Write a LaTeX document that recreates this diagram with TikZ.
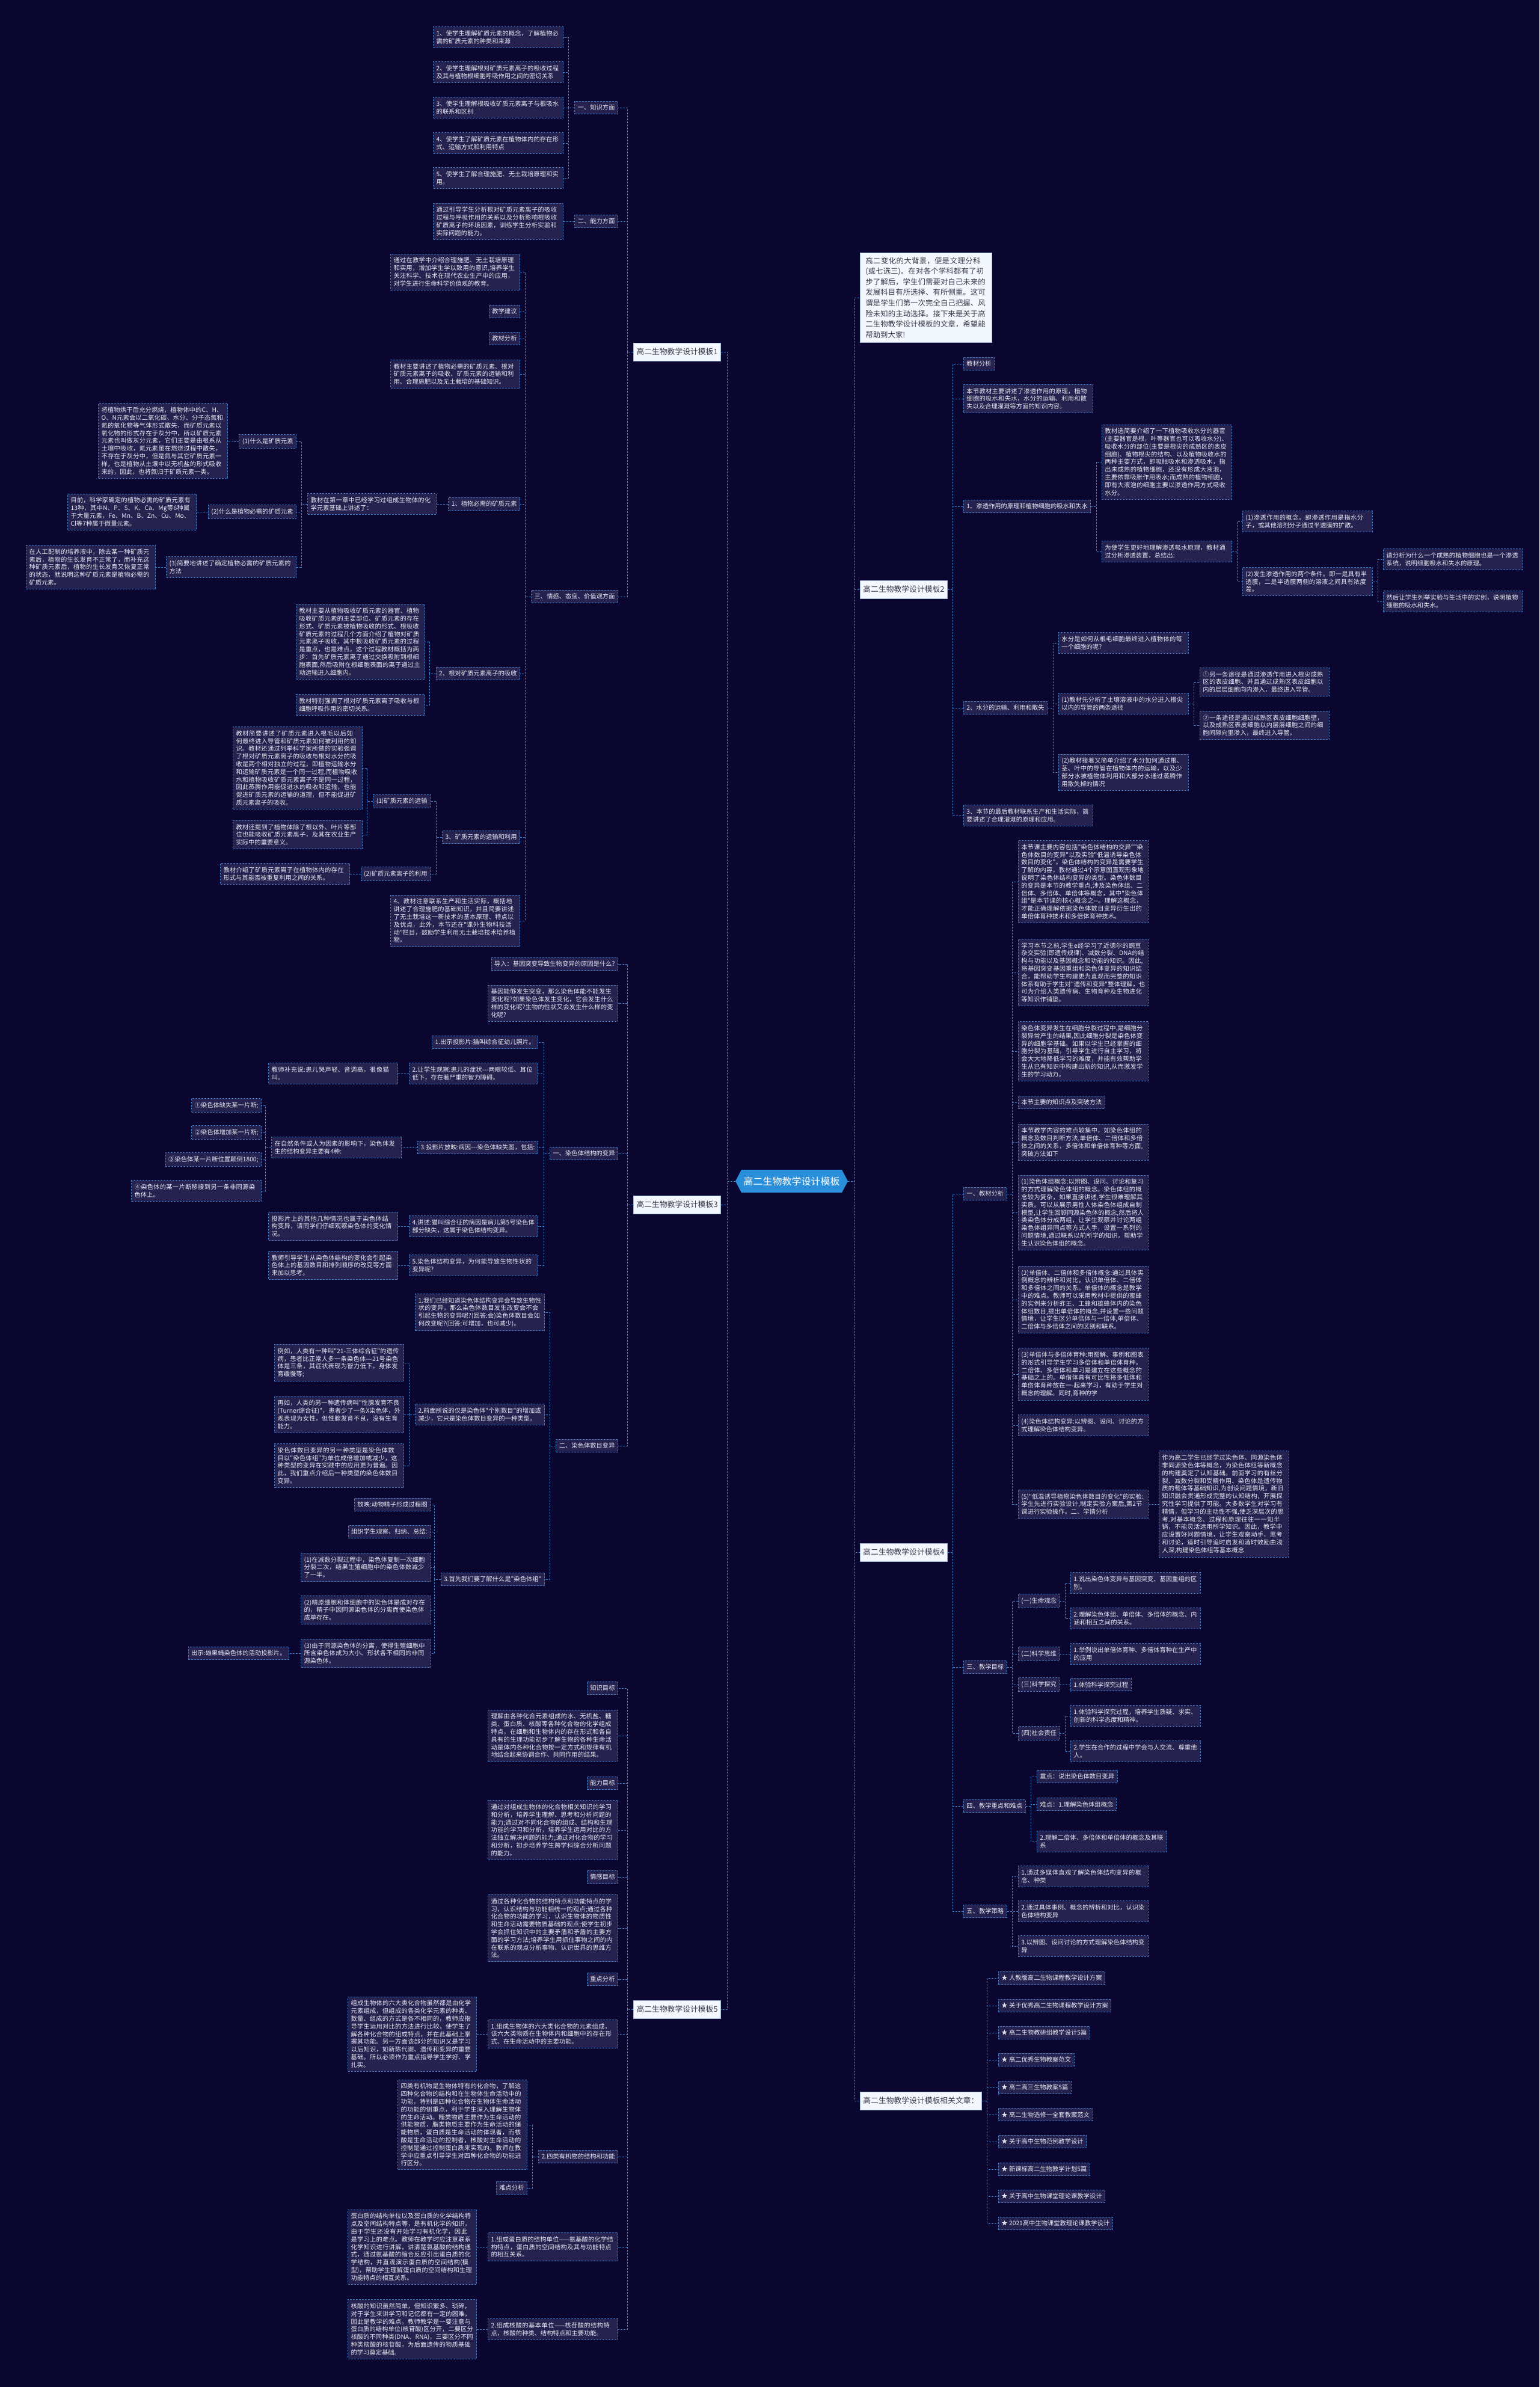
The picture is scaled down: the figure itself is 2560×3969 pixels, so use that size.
\documentclass[tikz,border=0pt]{standalone}
\usepackage{fontspec}
\newfontfamily\cjk{Noto Sans CJK SC}
\XeTeXlinebreaklocale "zh"
\XeTeXlinebreakskip=0pt plus 1pt
\usetikzlibrary{calc}
\definecolor{bgc}{HTML}{0A0630}
\definecolor{boxc}{HTML}{26224F}
\definecolor{bd}{HTML}{3C7CC8}
\definecolor{cc}{HTML}{3A86D2}
\definecolor{txt}{HTML}{E8E8F2}
\definecolor{mainfill}{HTML}{F3F8FE}
\definecolor{mainbd}{HTML}{9FB6D6}
\definecolor{maintxt}{HTML}{3A3A4A}
\definecolor{rootc}{HTML}{2A8FDA}
\newcommand\lcon[2]{\draw[conn] (#1.west) -- ++(-10,0) |- (#2.east);}
\newcommand\rcon[2]{\draw[conn] (#1.east) -- ++(9,0) |- (#2.west);}
\begin{document}
\begin{tikzpicture}[x=1pt,y=-1pt,
  lf/.style={draw=bd, dash pattern=on 3pt off 2pt, line width=0.9pt, fill=boxc, text=txt,
    font=\cjk\fontsize{10.3}{12.8}\selectfont, inner xsep=5pt, inner ysep=6pt, align=left},
  tw/.style={text width=#1},
  mn/.style={draw=mainbd, line width=0.8pt, fill=mainfill, text=maintxt,
    font=\cjk\fontsize{12.8}{16}\selectfont, inner xsep=5pt, minimum height=30pt},
  intro/.style={draw=mainbd, line width=0.8pt, fill=mainfill, text=maintxt,
    font=\cjk\fontsize{12.4}{17.6}\selectfont, inner xsep=9pt, inner ysep=7pt, align=left},
  conn/.style={draw=cc, dash pattern=on 3pt off 2pt, line width=0.9pt}]
\fill[bgc] (0,0) rectangle (2560,3969);
\useasboundingbox (0,0) rectangle (2560,3969);

% ---------- root ----------
\fill[rootc] (1223,1964) -- (1233,1945) -- (1400,1945) -- (1410,1964) -- (1400,1983) -- (1233,1983) -- cycle;
\node[minimum width=187pt, minimum height=38pt, inner sep=0pt, text=white,
  font=\cjk\fontsize{16}{18}\selectfont] (root) at (1316.5,1964) {高二生物教学设计模板};

% ================= LEFT: 模板1 =================
\node[mn,anchor=east] (m1) at (1199,585) {高二生物教学设计模板1};
\node[lf,anchor=east] (k) at (1028,179) {一、知识方面};
\node[lf,anchor=east] (n) at (1028,368) {二、能力方面};
\node[lf,anchor=east] (q) at (1028,992) {三、情感、态度、价值观方面};
\node[lf,anchor=east,tw=206pt] (k1) at (937,62) {1、使学生理解矿质元素的概念，了解植物必需的矿质元素的种类和来源};
\node[lf,anchor=east,tw=206pt] (k2) at (937,120) {2、使学生理解根对矿质元素离子的吸收过程及其与植物根细胞呼吸作用之间的密切关系};
\node[lf,anchor=east,tw=206pt] (k3) at (937,179) {3、使学生理解根吸收矿质元素离子与根吸水的联系和区别};
\node[lf,anchor=east,tw=206pt] (k4) at (937,238) {4、使学生了解矿质元素在植物体内的存在形式、运输方式和利用特点};
\node[lf,anchor=east,tw=206pt] (k5) at (937,296) {5、使学生了解合理施肥、无土栽培原理和实用。};
\node[lf,anchor=east,tw=206pt] (n1) at (937,368) {通过引导学生分析根对矿质元素离子的吸收过程与呼吸作用的关系以及分析影响根吸收矿质离子的环境因素，训练学生分析实验和实际问题的能力。};
\node[lf,anchor=east,tw=205pt] (qa) at (865,452) {通过在教学中介绍合理施肥、无土栽培原理和实用，增加学生学以致用的意识,培养学生关注科学、技术在现代农业生产中的应用，对学生进行生命科学价值观的教育。};
\node[lf,anchor=east] (qb) at (865,518) {教学建议};
\node[lf,anchor=east] (qc) at (865,563) {教材分析};
\node[lf,anchor=east,tw=205pt] (qd) at (865,622) {教材主要讲述了植物必需的矿质元素、根对矿质元素离子的吸收、矿质元素的运输和利用、合理施肥以及无土栽培的基础知识。};
\node[lf,anchor=east] (q1) at (865,838) {1、植物必需的矿质元素};
\node[lf,anchor=east] (q2) at (865,1120) {2、根对矿质元素离子的吸收};
\node[lf,anchor=east] (q3) at (865,1392) {3、矿质元素的运输和利用};
\node[lf,anchor=east,tw=205pt] (q4) at (865,1531) {4、教材注意联系生产和生活实际，概括地讲述了合理施肥的基础知识，并且简要讲述了无土栽培这一新技术的基本原理、特点以及优点，此外，本节还在"课外生物科技活动"栏目，鼓励学生利用无土栽培技术培养植物。};
\node[lf,anchor=east,tw=204pt] (q1a) at (726,838) {教材在第一章中已经学习过组成生物体的化学元素基础上讲述了：};
\node[lf,anchor=east] (q1a1) at (493,734) {(1)什么是矿质元素};
\node[lf,anchor=east] (q1a2) at (493,851) {(2)什么是植物必需的矿质元素};
\node[lf,anchor=east,tw=206pt] (q1a3) at (493,943) {(3)简要地讲述了确定植物必需的矿质元素的方法};
\node[lf,anchor=east,tw=205pt] (q1a1x) at (379,733) {将植物烘干后充分燃烧，植物体中的C、H、O、N元素会以二氧化碳、水分、分子态氮和氮的氧化物等气体形式散失，而矿质元素以氧化物的形式存在于灰分中，所以矿质元素元素也叫做灰分元素，它们主要是由根系从土壤中吸收，氮元素虽在燃烧过程中散失，不存在于灰分中，但是氮与其它矿质元素一样，也是植物从土壤中以无机盐的形式吸收来的，因此，也将氮归于矿质元素一类。};
\node[lf,anchor=east,tw=204pt] (q1a2x) at (327,851) {目前，科学家确定的植物必需的矿质元素有13种，其中N、P、S、K、Ca、Mg等6种属于大量元素，Fe、Mn、B、Zn、Cu、Mo、Cl等7种属于微量元素。};
\node[lf,anchor=east,tw=205pt] (q1a3x) at (259,943) {在人工配制的培养液中，除去某一种矿质元素后，植物的生长发育不正常了，而补充这种矿质元素后，植物的生长发育又恢复正常的状态，就说明这种矿质元素是植物必需的矿质元素。};
\node[lf,anchor=east,tw=204pt] (q2a) at (707,1067) {教材主要从植物吸收矿质元素的器官、植物吸收矿质元素的主要部位、矿质元素的存在形式、矿质元素被植物吸收的形式、根吸收矿质元素的过程几个方面介绍了植物对矿质元素离子吸收，其中根吸收矿质元素的过程是重点，也是难点，这个过程教材概括为两步：首先矿质元素离子通过交换吸附到根细胞表面,然后吸附在根细胞表面的离子通过主动运输进入细胞内。};
\node[lf,anchor=east,tw=204pt] (q2b) at (707,1172) {教材特别强调了根对矿质元素离子吸收与根细胞呼吸作用的密切关系。};
\node[lf,anchor=east] (q3a) at (716,1332) {(1)矿质元素的运输};
\node[lf,anchor=east] (q3b) at (716,1453) {(2)矿质元素离子的利用};
\node[lf,anchor=east,tw=205pt] (q3a1) at (603,1277) {教材简要讲述了矿质元素进入根毛以后如何最终进入导管和矿质元素如何被利用的知识。教材还通过列举科学家所做的实验强调了根对矿质元素离子的吸收与根对水分的吸收是两个相对独立的过程，即植物运输水分和运输矿质元素是一个同一过程,而植物吸收水和植物吸收矿质元素离子不是同一过程，因此蒸腾作用能促进水的吸收和运输，也能促进矿质元素的运输的道理，但不能促进矿质元素离子的吸收。};
\node[lf,anchor=east,tw=205pt] (q3a2) at (603,1388) {教材还提到了植物体除了根以外、叶片等部位也能吸收矿质元素离子，及其在农业生产实际中的重要意义。};
\node[lf,anchor=east,tw=205pt] (q3b1) at (582,1453) {教材介绍了矿质元素离子在植物体内的存在形式与其能否被重复利用之间的关系。};

% ================= LEFT: 模板3 =================
\node[mn,anchor=east] (m3) at (1199,2003) {高二生物教学设计模板3};
\node[lf,anchor=east] (d1) at (1028,1603) {导入：基因突变导致生物变异的原因是什么?};
\node[lf,anchor=east,tw=206pt] (d2) at (1028,1668) {基因能够发生突变，那么染色体能不能发生变化呢?如果染色体发生变化，它会发生什么样的变化呢?生物的性状又会发生什么样的变化呢?};
\node[lf,anchor=east] (s1) at (1028,1918) {一、染色体结构的变异};
\node[lf,anchor=east] (s2) at (1028,2404) {二、染色体数目变异};
\node[lf,anchor=east] (s1a) at (895,1733) {1.出示投影片:猫叫综合征幼儿照片。};
\node[lf,anchor=east,tw=204pt] (s1b) at (895,1785) {2.让学生观察:患儿的症状---两眼较低、耳位低下，存在着严重的智力障碍。};
\node[lf,anchor=east] (s1c) at (895,1908) {3.投影片放映:病因---染色体缺失图，包括:};
\node[lf,anchor=east,tw=204pt] (s1d) at (895,2039) {4.讲述:猫叫综合征的病因是病儿第5号染色体部分缺失，这属于染色体结构变异。};
\node[lf,anchor=east,tw=204pt] (s1e) at (895,2104) {5.染色体结构变异，为何能导致生物性状的变异呢?};
\node[lf,anchor=east,tw=205pt] (s1bx) at (662,1785) {教师补充说:患儿哭声轻、音调高，很像猫叫。};
\node[lf,anchor=east,tw=206pt] (s1cx) at (668,1908) {在自然条件或人为因素的影响下，染色体发生的结构变异主要有4种:};
\node[lf,anchor=east] (c1) at (435,1838) {①染色体缺失某一片断;};
\node[lf,anchor=east] (c2) at (435,1883) {②染色体增加某一片断;};
\node[lf,anchor=east] (c3) at (435,1928) {③染色体某一片断位置颠倒1800;};
\node[lf,anchor=east,tw=206pt] (c4) at (435,1980) {④染色体的某一片断移接到另一条非同源染色体上。};
\node[lf,anchor=east,tw=205pt] (s1dx) at (662,2039) {投影片上的其他几种情况也属于染色体结构变异，请同学们仔细观察染色体的变化情况。};
\node[lf,anchor=east,tw=205pt] (s1ex) at (662,2104) {教师引导学生从染色体结构的变化会引起染色体上的基因数目和排列顺序的改变等方面来加以思考。};
\node[lf,anchor=east,tw=205pt] (s2a) at (906,2182) {1.我们已经知道染色体结构变异会导致生物性状的变异，那么染色体数目发生改变会不会引起生物的变异呢?(回答:会)染色体数目会如何改变呢?(回答:可增加，也可减少)。};
\node[lf,anchor=east,tw=205pt] (s2b) at (906,2352) {2.前面所说的仅是染色体"个别数目"的增加或减少，它只是染色体数目变异的一种类型。};
\node[lf,anchor=east] (s2c) at (906,2626) {3.首先我们要了解什么是"染色体组"};
\node[lf,anchor=east,tw=205pt] (s2b1) at (672,2266) {例如，人类有一种叫"21-三体综合征"的遗传病，患者比正常人多一条染色体---21号染色体是三条，其症状表现为智力低下，身体发育缓慢等;};
\node[lf,anchor=east,tw=205pt] (s2b2) at (672,2352) {再如，人类的另一种遗传病叫"性腺发育不良(Turner综合征)"，患者少了一条X染色体，外观表现为女性，但性腺发育不良，没有生育能力。};
\node[lf,anchor=east,tw=205pt] (s2b3) at (672,2437) {染色体数目变异的另一种类型是染色体数目以"染色体组"为单位成倍增加或减少，这种类型的变异在实践中的应用更为普遍。因此，我们重点介绍后一种类型的染色体数目变异。};
\node[lf,anchor=east] (s2c1) at (716,2502) {放映:动物精子形成过程图};
\node[lf,anchor=east] (s2c2) at (716,2547) {组织学生观察、归纳、总结:};
\node[lf,anchor=east,tw=205pt] (s2c3) at (716,2606) {(1)在减数分裂过程中，染色体复制一次细胞分裂二次，结果生殖细胞中的染色体数减少了一半。};
\node[lf,anchor=east,tw=205pt] (s2c4) at (716,2677) {(2)精原细胞和体细胞中的染色体是成对存在的，精子中因同源染色体的分离而使染色体成单存在。};
\node[lf,anchor=east,tw=205pt] (s2c5) at (716,2749) {(3)由于同源染色体的分离，使得生殖细胞中所含染色体成为大小、形状各不相同的非同源染色体。};
\node[lf,anchor=east] (s2c5x) at (481,2749) {出示:雄果蝇染色体的活动投影片。};

% ================= LEFT: 模板5 =================
\node[mn,anchor=east] (m5) at (1199,3341) {高二生物教学设计模板5};
\node[lf,anchor=east] (t1) at (1028,2807) {知识目标};
\node[lf,anchor=east,tw=206pt] (t2) at (1028,2886) {理解由各种化合元素组成的水、无机盐、糖类、蛋白质、核酸等各种化合物的化学组成特点，在细胞和生物体内的存在形式和各自具有的生理功能初步了解生物的各种生命活动是体内各种化合物按一定方式和规律有机地结合起来协调合作、共同作用的结果。};
\node[lf,anchor=east] (t3) at (1028,2965) {能力目标};
\node[lf,anchor=east,tw=206pt] (t4) at (1028,3043) {通过对组成生物体的化合物相关知识的学习和分析，培养学生理解、思考和分析问题的能力;通过对不同化合物的组成、结构和生理功能的学习和分析，培养学生运用对比的方法独立解决问题的能力;通过对化合物的学习和分析，初步培养学生跨学科综合分析问题的能力。};
\node[lf,anchor=east] (t5) at (1028,3121) {情感目标};
\node[lf,anchor=east,tw=206pt] (t6) at (1028,3206) {通过各种化合物的结构特点和功能特点的学习，认识结构与功能相统一的观点;通过各种化合物的功能的学习，认识生物体的物质性和生命活动需要物质基础的观点;使学生初步学会抓住知识中的主要矛盾和矛盾的主要方面的学习方法;培养学生用抓住事物之间的内在联系的观点分析事物、认识世界的思维方法。};
\node[lf,anchor=east] (t7) at (1028,3291) {重点分析};
\node[lf,anchor=east,tw=206pt] (t8) at (1028,3382) {1.组成生物体的六大类化合物的元素组成，该六大类物质在生物体内和细胞中的存在形式、在生命活动中的主要功能。};
\node[lf,anchor=east,tw=204pt] (t8x) at (793,3382) {组成生物体的六大类化合物虽然都是由化学元素组成，但组成的各类化学元素的种类、数量、组成的方式是各不相同的，教师应指导学生运用对比的方法进行比较，使学生了解各种化合物的组成特点，并在此基础上掌握其功能。另一方面该部分的知识又是学习以后知识，如新陈代谢、遗传和变异的重要基础。所以必须作为重点指导学生学好、学扎实。};
\node[lf,anchor=east] (t9) at (1028,3586) {2.四类有机物的结构和功能};
\node[lf,anchor=east,tw=205pt] (t9a) at (877,3533) {四类有机物是生物体特有的化合物，了解这四种化合物的结构和在生物体生命活动中的功能，特别是四种化合物在生物体生命活动的功能的侧重点，利于学生深入理解生物体的生命活动。糖类物质主要作为生命活动的供能物质，脂类物质主要作为生命活动的储能物质，蛋白质是生命活动的体现者，而核酸是生命活动的控制者，核酸对生命活动的控制是通过控制蛋白质来实现的。教师在教学中应重点引导学生对四种化合物的功能进行区分。};
\node[lf,anchor=east] (t9b) at (877,3638) {难点分析};
\node[lf,anchor=east,tw=206pt] (t10) at (1028,3736) {1.组成蛋白质的结构单位——氨基酸的化学结构特点，蛋白质的空间结构及其与功能特点的相互关系。};
\node[lf,anchor=east,tw=204pt] (t10x) at (793,3736) {蛋白质的结构单位以及蛋白质的化学结构特点及空间结构特点等，是有机化学的知识，由于学生还没有开始学习有机化学，因此是学习上的难点。教师在教学时应注意联系化学知识进行讲解，讲清楚氨基酸的结构通式，通过氨基酸的缩合反应引出蛋白质的化学结构，并直观演示蛋白质的空间结构(模型)，帮助学生理解蛋白质的空间结构和生理功能特点的相互关系。};
\node[lf,anchor=east,tw=206pt] (t11) at (1028,3873) {2.组成核酸的基本单位——核苷酸的结构特点，核酸的种类、结构特点和主要功能。};
\node[lf,anchor=east,tw=204pt] (t11x) at (793,3873) {核酸的知识虽然简单，但知识繁多、琐碎，对于学生来讲学习和记忆都有一定的困难，因此是教学的难点。教师教学是一要注意与蛋白质的结构单位(核苷酸)区分开，二要区分核酸的不同种类(DNA、RNA)，三要区分不同种类核酸的核苷酸，为后面遗传的物质基础的学习奠定基础。};

% ================= RIGHT =================
\node[intro,anchor=west,text width=201pt] (intro) at (1430,495) {高二变化的大背景，便是文理分科(或七选三)。在对各个学科都有了初步了解后，学生们需要对自己未来的发展科目有所选择、有所侧重。这可谓是学生们第一次完全自己把握、风险未知的主动选择。接下来是关于高二生物教学设计模板的文章，希望能帮助到大家!};

% 模板2
\node[mn,anchor=west] (m2) at (1430,980) {高二生物教学设计模板2};
\node[lf,anchor=west] (r1) at (1602,605) {教材分析};
\node[lf,anchor=west,tw=205pt] (r2) at (1602,663) {本节教材主要讲述了渗透作用的原理，植物细胞的吸水和失水，水分的运输、利用和散失以及合理灌溉等方面的知识内容。};
\node[lf,anchor=west] (r3) at (1602,842) {1、渗透作用的原理和植物细胞的吸水和失水};
\node[lf,anchor=west,tw=206pt] (r3a) at (1832,768) {教材选简要介绍了一下植物吸收水分的器官(主要器官是根，叶等器官也可以吸收水分)、吸收水分的部位(主要是根尖的成熟区的表皮细胞)、植物根尖的结构、以及植物吸收水的两种主要方式，即吸胀吸水和渗透吸水，指出未成熟的植物细胞，还没有形成大液泡，主要依靠吸胀作用吸水;而成熟的植物细胞，即有大液泡的细胞主要以渗透作用方式吸收水分。};
\node[lf,anchor=west,tw=206pt] (r3b) at (1832,917) {为使学生更好地理解渗透吸水原理，教材通过分析渗透装置，总结出:};
\node[lf,anchor=west,tw=206pt] (r3b1) at (2066,867) {(1)渗透作用的概念。即渗透作用是指水分子，或其他溶剂分子通过半透膜的扩散。};
\node[lf,anchor=west,tw=206pt] (r3b2) at (2066,967) {(2)发生渗透作用的两个条件。即一是具有半透膜，二是半透膜两侧的溶液之间具有浓度差。};
\node[lf,anchor=west,tw=222pt] (r3b2a) at (2300,930) {请分析为什么一个成熟的植物细胞也是一个渗透系统，说明细胞吸水和失水的原理。};
\node[lf,anchor=west,tw=222pt] (r3b2b) at (2300,1000) {然后让学生列举实验与生活中的实例，说明植物细胞的吸水和失水。};
\node[lf,anchor=west] (r4) at (1602,1177) {2、水分的运输、利用和散失};
\node[lf,anchor=west,tw=206pt] (r4a) at (1760,1069) {水分是如何从根毛细胞最终进入植物体的每一个细胞的呢?};
\node[lf,anchor=west,tw=206pt] (r4b) at (1760,1170) {(1)教材先分析了土壤溶液中的水分进入根尖以内的导管的两条途径};
\node[lf,anchor=west,tw=205pt] (r4b1) at (1995,1134) {①另一条途径是通过渗透作用进入根尖成熟区的表皮细胞、并且通过成熟区表皮细胞以内的层层细胞向内渗入，最终进入导管。};
\node[lf,anchor=west,tw=205pt] (r4b2) at (1995,1206) {②一条途径是通过成熟区表皮细胞细胞壁，以及成熟区表皮细胞以内层层细胞之间的细胞间隙向里渗入，最终进入导管。};
\node[lf,anchor=west,tw=206pt] (r4c) at (1760,1284) {(2)教材接着又简单介绍了水分如何通过根、茎、叶中的导管在植物体内的运输，以及少部分水被植物体利用和大部分水通过蒸腾作用散失掉的情况};
\node[lf,anchor=west,tw=205pt] (r5) at (1602,1356) {3、本节的最后教材联系生产和生活实际，简要讲述了合理灌溉的原理和应用。};

% 模板4
\node[mn,anchor=west] (m4) at (1430,2581) {高二生物教学设计模板4};
\node[lf,anchor=west] (u1) at (1602,1985) {一、教材分析};
\node[lf,anchor=west,tw=206pt] (u1a) at (1693,1466) {本节课主要内容包括"染色体结构的交异""染色体数目的变异"以及实验"低温诱导染色体数目的变化"。染色体结构的变异是需要学生了解的内容，教材通过4个示意图直观形象地说明了染色体结构变异的类型。染色体数目的变异是本节的教学重点,涉及染色体组、二倍体、多倍体、单倍体等概念，其中"染色体组"是本节课的核心概念之--。理解这概念，才能正确理解依据染色体数目变异衍生出的单倍体育种技术和多倍体育种技术。};
\node[lf,anchor=west,tw=206pt] (u1b) at (1693,1617) {学习本节之前,学生e经学习了近德尔的豌豆杂交实验(即遗传规律)、减数分裂、DNA的结构与功能以及基因概念和功能的知识。因此,将基因突变基因重组和染色体变异的知识结合，能帮助学生构建更为直观而完整的知识体系有助于学生对"遗传和变异"整体理解，也可为介绍人类遗传病、生物育种及生物进化等知识作铺垫。};
\node[lf,anchor=west,tw=206pt] (u1c) at (1693,1748) {染色体变异发生在细胞分裂过程中,是细胞分裂异常产生的结果,因此细胞分裂是染色体变异的细胞学基础。如果以学生已经掌握的细胞分裂为基础，引导学生进行自主学习，将会大大地降低学习的难度，并能有效帮助学生从已有知识中构建出新的知识,从而激发学生的学习动力。};
\node[lf,anchor=west] (u1d) at (1693,1833) {本节主要的知识点及突破方法};
\node[lf,anchor=west,tw=206pt] (u1e) at (1693,1899) {本节教学内容的难点较集中，如染色体组的概念及数目判断方法,单倍体、二倍体和多倍体之间的关系，多倍体和单倍体育种等方面,突破方法如下};
\node[lf,anchor=west,tw=206pt] (u1f) at (1693,2016) {(1)染色体组概念:以辨图、设问、讨论和复习的方式理解染色体组的概念。染色体组的概念较为复杂，如果直接讲述,学生很难理解其实质。可以从展示男性人体染色体组成自制模型,让学生回顾同源染色体的概念,然后将人类染色体分成两组，让学生观察并讨论两组染色体组异同点等方式人手，设置一系列的问题情境,通过联系以前所学的知识，帮助学生认识染色体组的概念。};
\node[lf,anchor=west,tw=206pt] (u1g) at (1693,2161) {(2)单倍体、二倍体和多倍体概念:通过具体实例概念的辨析和对比，认识单倍体、二倍体和多倍体之间的关系。单倍体的概念是教学中的难点。教师可以采用教材中提供的蜜蜂的实例来分析蚱王、工蜂和雄蜂体内的染色体组数目,提出单倍体的概念,并设置一些问题情境，让学生区分单倍体与一倍体,单倍体、二倍体与多倍体之间的区别和联系。};
\node[lf,anchor=west,tw=206pt] (u1h) at (1693,2285) {(3)单倍体与多倍体育种:用图解、事例和图表的形式引导学生学习多倍体和单倍体育种。二倍体、多倍体和单习是建立在这些概念的基础之上的。单借体具有可比性将多低体和单伤体育种放在一-起来学习，有助于学生对概念的理解。同时,育种的学};
\node[lf,anchor=west,tw=206pt] (u1i) at (1693,2370) {(4)染色体结构变异:以辨图、设问、讨论的方式理解染色体结构变异。};
\node[lf,anchor=west,tw=206pt] (u1j) at (1693,2501) {(5)"低温诱导植物染色体数目的变化"的实验:学生先进行实验设计,制定实验方案后,第2节课进行实验操作。二、学情分析};
\node[lf,anchor=west,tw=206pt] (u1jx) at (1927,2501) {作为高二学生已经学过染色体、同源染色体非同源染色体等概念，为染色体组等新概念的构建奠定了认知基础。前面学习的有丝分裂、减数分裂和受精作用、染色体是遗传物质的载体等基础知识,为创设问题情境，新旧知识融会贯通形成完整的认知结构，开展探究性学习提供了可能。大多数学生对学习有精情，但学习的主动性不强,使乏深层次的思考.对基本概念、过程和原理往往一一知半锅，不能灵活运用所学知识。因此，教学中应设置好问题情境，让学生观察动手，思考和讨论，适时引导追时启发和酒时效励由浅人深,构建染色体组等基本概念};
\node[lf,anchor=west] (u3) at (1602,2772) {三、教学目标};
\node[lf,anchor=west] (u3a) at (1693,2662) {(一)生命观念};
\node[lf,anchor=west] (u3b) at (1693,2750) {(二)科学思维};
\node[lf,anchor=west] (u3c) at (1693,2801) {(三)科学探究};
\node[lf,anchor=west] (u3d) at (1693,2882) {(四)社会责任};
\node[lf,anchor=west,tw=206pt] (u3a1) at (1780,2632) {1.说出染色体变异与基因突变、基因重组的区别。};
\node[lf,anchor=west,tw=206pt] (u3a2) at (1780,2691) {2.理解染色体组、单倍体、多倍体的概念、内涵和相互之间的关系。};
\node[lf,anchor=west,tw=206pt] (u3b1) at (1780,2750) {1.举例说出单倍体育种、多倍体育种在生产中的应用};
\node[lf,anchor=west] (u3c1) at (1780,2801) {1.体验科学探究过程};
\node[lf,anchor=west,tw=206pt] (u3d1) at (1780,2853) {1.体验科学探究过程，培养学生质疑、求实、创新的科学态度和精神。};
\node[lf,anchor=west,tw=206pt] (u3d2) at (1780,2912) {2.学生在合作的过程中学会与人交流、尊重他人。};
\node[lf,anchor=west] (u4) at (1602,3003) {四、教学重点和难点};
\node[lf,anchor=west] (u4a) at (1724,2954) {重点：说出染色体数目变异};
\node[lf,anchor=west] (u4b) at (1724,3000) {难点：1.理解染色体组概念};
\node[lf,anchor=west,tw=206pt] (u4c) at (1724,3062) {2.理解二倍体、多倍体和单倍体的概念及其联系};
\node[lf,anchor=west] (u5) at (1602,3178) {五、教学策略};
\node[lf,anchor=west,tw=206pt] (u5a) at (1693,3120) {1.通过多媒体直观了解染色体结构变异的概念、种类};
\node[lf,anchor=west,tw=206pt] (u5b) at (1693,3178) {2.通过具体事例、概念的辨析和对比，认识染色体结构变异};
\node[lf,anchor=west,tw=206pt] (u5c) at (1693,3236) {3.以辨图、设问讨论的方式理解染色体结构变异};

% 相关文章
\node[mn,anchor=west] (m6) at (1430,3493) {高二生物教学设计模板相关文章：};
\node[lf,anchor=west] (a1) at (1660,3289) {★ 人教版高二生物课程教学设计方案};
\node[lf,anchor=west] (a2) at (1660,3335) {★ 关于优秀高二生物课程教学设计方案};
\node[lf,anchor=west] (a3) at (1660,3380) {★ 高二生物教研组教学设计5篇};
\node[lf,anchor=west] (a4) at (1660,3425) {★ 高二优秀生物教案范文};
\node[lf,anchor=west] (a5) at (1660,3471) {★ 高二高三生物教案5篇};
\node[lf,anchor=west] (a6) at (1660,3516) {★ 高二生物选修一全套教案范文};
\node[lf,anchor=west] (a7) at (1660,3561) {★ 关于高中生物范例教学设计};
\node[lf,anchor=west] (a8) at (1660,3607) {★ 新课标高二生物教学计划5篇};
\node[lf,anchor=west] (a9) at (1660,3652) {★ 关于高中生物课堂理论课教学设计};
\node[lf,anchor=west] (a10) at (1660,3697) {★ 2021高中生物课堂教理论课教学设计};

% ================= CONNECTORS =================
\foreach \c in {m1,m3,m5} {\draw[conn] (root.west) -- ++(-13,0) |- (\c.east);}
\foreach \c in {intro,m2,m4,m6} {\draw[conn] (root.east) -- ++(11,0) |- (\c.west);}
\foreach \c in {k,n,q} {\lcon{m1}{\c}}
\foreach \c in {k1,k2,k3,k4,k5} {\lcon{k}{\c}}
\lcon{n}{n1}
\foreach \c in {qa,qb,qc,qd,q1,q2,q3,q4} {\lcon{q}{\c}}
\lcon{q1}{q1a}
\foreach \c in {q1a1,q1a2,q1a3} {\lcon{q1a}{\c}}
\lcon{q1a1}{q1a1x}
\lcon{q1a2}{q1a2x}
\lcon{q1a3}{q1a3x}
\foreach \c in {q2a,q2b} {\lcon{q2}{\c}}
\foreach \c in {q3a,q3b} {\lcon{q3}{\c}}
\foreach \c in {q3a1,q3a2} {\lcon{q3a}{\c}}
\lcon{q3b}{q3b1}
\foreach \c in {d1,d2,s1,s2} {\lcon{m3}{\c}}
\foreach \c in {s1a,s1b,s1c,s1d,s1e} {\lcon{s1}{\c}}
\lcon{s1b}{s1bx}
\lcon{s1c}{s1cx}
\foreach \c in {c1,c2,c3,c4} {\lcon{s1cx}{\c}}
\lcon{s1d}{s1dx}
\lcon{s1e}{s1ex}
\foreach \c in {s2a,s2b,s2c} {\lcon{s2}{\c}}
\foreach \c in {s2b1,s2b2,s2b3} {\lcon{s2b}{\c}}
\foreach \c in {s2c1,s2c2,s2c3,s2c4,s2c5} {\lcon{s2c}{\c}}
\lcon{s2c5}{s2c5x}
\foreach \c in {t1,t2,t3,t4,t5,t6,t7,t8,t9,t10,t11} {\lcon{m5}{\c}}
\lcon{t8}{t8x}
\foreach \c in {t9a,t9b} {\lcon{t9}{\c}}
\lcon{t10}{t10x}
\lcon{t11}{t11x}
\foreach \c in {r1,r2,r3,r4,r5} {\rcon{m2}{\c}}
\foreach \c in {r3a,r3b} {\rcon{r3}{\c}}
\foreach \c in {r3b1,r3b2} {\rcon{r3b}{\c}}
\foreach \c in {r3b2a,r3b2b} {\rcon{r3b2}{\c}}
\foreach \c in {r4a,r4b,r4c} {\rcon{r4}{\c}}
\foreach \c in {r4b1,r4b2} {\rcon{r4b}{\c}}
\foreach \c in {u1,u3,u4,u5} {\rcon{m4}{\c}}
\foreach \c in {u1a,u1b,u1c,u1d,u1e,u1f,u1g,u1h,u1i,u1j} {\rcon{u1}{\c}}
\rcon{u1j}{u1jx}
\foreach \c in {u3a,u3b,u3c,u3d} {\rcon{u3}{\c}}
\foreach \c in {u3a1,u3a2} {\rcon{u3a}{\c}}
\rcon{u3b}{u3b1}
\rcon{u3c}{u3c1}
\foreach \c in {u3d1,u3d2} {\rcon{u3d}{\c}}
\foreach \c in {u4a,u4b,u4c} {\rcon{u4}{\c}}
\foreach \c in {u5a,u5b,u5c} {\rcon{u5}{\c}}
\foreach \c in {a1,a2,a3,a4,a5,a6,a7,a8,a9,a10} {\rcon{m6}{\c}}
\end{tikzpicture}
\end{document}
